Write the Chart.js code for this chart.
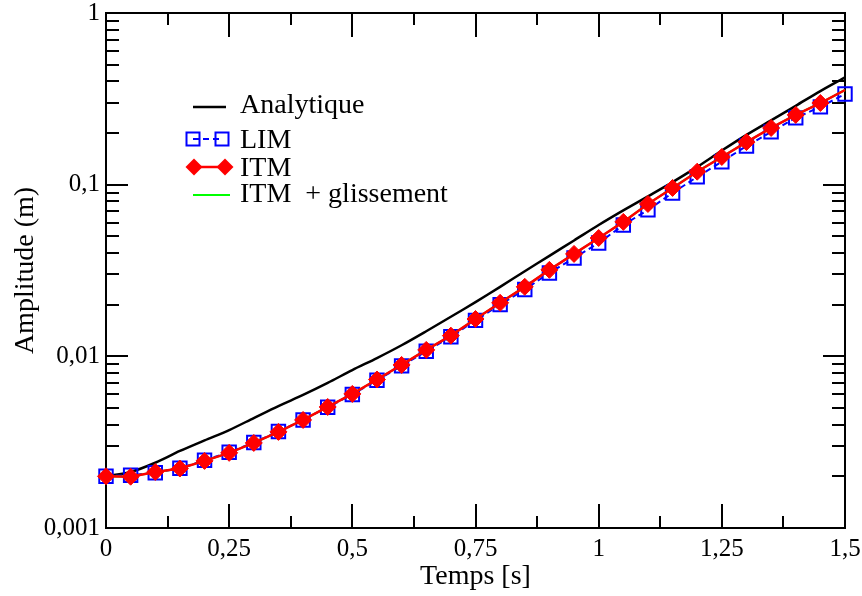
<!DOCTYPE html>
<html>
<head>
<meta charset="utf-8">
<script src="https://cdn.jsdelivr.net/npm/chart.js@4/dist/chart.umd.min.js"></script>
<style>
  body { margin: 0; background: #fff; }
  canvas { display: block; }
</style>
</head>
<body>
<canvas id="grafico" width="862" height="596"></canvas>
<script>
// temps (s)
const temps = [0, 0.05, 0.1, 0.15, 0.2, 0.25, 0.3, 0.35, 0.4, 0.45, 0.5, 0.55, 0.6, 0.65, 0.7, 0.75,
  0.8, 0.85, 0.9, 0.95, 1, 1.05, 1.1, 1.15, 1.2, 1.25, 1.3, 1.35, 1.4, 1.45, 1.5];

// amplitudes (m)
const analytique = [0.0020, 0.00212, 0.0024, 0.00281, 0.00324, 0.00372, 0.00437, 0.00513, 0.00596, 0.0070,
  0.00832, 0.00977, 0.0116, 0.0140, 0.0170, 0.0207, 0.0254, 0.0313, 0.0385, 0.0473, 0.0582,
  0.0708, 0.0855, 0.1035, 0.127, 0.158, 0.195, 0.237, 0.288, 0.351, 0.422];
const lim = [0.0020, 0.00203, 0.0021, 0.00223, 0.00248, 0.00276, 0.00315, 0.00365, 0.00426, 0.00505,
  0.0060, 0.00725, 0.0088, 0.0107, 0.0130, 0.0162, 0.0200, 0.0245, 0.0306, 0.0374, 0.0457,
  0.0582, 0.0713, 0.0895, 0.111, 0.136, 0.168, 0.203, 0.245, 0.284, 0.337];
const itm = [0.0020, 0.00199, 0.00212, 0.00222, 0.00246, 0.00274, 0.00313, 0.00363, 0.00426, 0.00507,
  0.00604, 0.00733, 0.00891, 0.0109, 0.0132, 0.0165, 0.0205, 0.0254, 0.0319, 0.0395, 0.0489,
  0.0607, 0.0772, 0.0957, 0.119, 0.145, 0.177, 0.214, 0.255, 0.299, 0.356];
const itmGlissement = [0.0020, 0.00199, 0.00212, 0.00222, 0.00246, 0.00274, 0.00313, 0.00363, 0.00426, 0.00507,
  0.00604, 0.00733, 0.00891, 0.0109, 0.0132, 0.0165, 0.0205, 0.0254, 0.0319, 0.0395, 0.0489,
  0.0607, 0.0772, 0.0957, 0.119, 0.145, 0.177, 0.214, 0.255, 0.299, 0.356];

const ticksX = [0, 0.25, 0.5, 0.75, 1, 1.25, 1.5];
const ticksY = [0.001, 0.01, 0.1, 1];

const police = "'Liberation Serif', 'Times New Roman', serif";

function pontos(valores) {
  return temps.map((t, i) => ({ x: t, y: valores[i] }));
}

function virgule(v) {
  return String(v).replace('.', ',');
}

// cadre + graduations vers l'interieur
const cadre = {
  id: 'cadre',
  beforeDatasetsDraw(chart) {
    const { ctx, chartArea: a, scales } = chart;
    const sx = scales.x, sy = scales.y;
    ctx.save();
    ctx.strokeStyle = '#000';
    ctx.lineWidth = 2;
    ctx.strokeRect(a.left, a.top, a.right - a.left, a.bottom - a.top);

    ctx.beginPath();
    ticksX.forEach((v, i) => {
      const x = Math.round(sx.getPixelForValue(v));
      ctx.moveTo(x, a.bottom); ctx.lineTo(x, a.bottom - 24);
      ctx.moveTo(x, a.top); ctx.lineTo(x, a.top + 24);
      if (i < ticksX.length - 1) {
        const xm = Math.round(sx.getPixelForValue((v + ticksX[i + 1]) / 2));
        ctx.moveTo(xm, a.bottom); ctx.lineTo(xm, a.bottom - 12);
        ctx.moveTo(xm, a.top); ctx.lineTo(xm, a.top + 12);
      }
    });
    ticksY.forEach((d, i) => {
      const y = Math.round(sy.getPixelForValue(d));
      ctx.moveTo(a.left, y); ctx.lineTo(a.left + 22, y);
      ctx.moveTo(a.right, y); ctx.lineTo(a.right - 22, y);
      if (i < ticksY.length - 1) {
        for (let k = 2; k <= 9; k++) {
          const ym = Math.round(sy.getPixelForValue(d * k));
          ctx.moveTo(a.left, ym); ctx.lineTo(a.left + 13, ym);
          ctx.moveTo(a.right, ym); ctx.lineTo(a.right - 13, ym);
        }
      }
    });
    ctx.stroke();
    ctx.restore();
  }
};

function carre(ctx, x, y, r) {
  ctx.strokeRect(x - r, y - r, 2 * r, 2 * r);
}
function losange(ctx, x, y, r) {
  ctx.beginPath();
  ctx.moveTo(x, y - r); ctx.lineTo(x + r, y); ctx.lineTo(x, y + r); ctx.lineTo(x - r, y);
  ctx.closePath(); ctx.fill();
}

// legende a l'interieur du graphe
const legende = {
  id: 'legende',
  afterDraw(chart) {
    const ctx = chart.ctx;
    ctx.save();
    ctx.font = '28px ' + police;
    ctx.fillStyle = '#000';
    ctx.textBaseline = 'alphabetic';

    // Analytique
    ctx.strokeStyle = '#000'; ctx.lineWidth = 2.5;
    ctx.beginPath(); ctx.moveTo(193, 107); ctx.lineTo(226, 107); ctx.stroke();
    ctx.fillText('Analytique', 240, 113);

    // LIM
    ctx.strokeStyle = '#0000ff'; ctx.lineWidth = 2;
    ctx.setLineDash([6, 4]);
    ctx.beginPath(); ctx.moveTo(193, 139); ctx.lineTo(222, 139); ctx.stroke();
    ctx.setLineDash([]);
    carre(ctx, 193, 139, 6.5); carre(ctx, 222, 139, 6.5);
    ctx.fillText('LIM', 240, 148);

    // ITM
    ctx.strokeStyle = '#ff0000'; ctx.fillStyle = '#ff0000'; ctx.lineWidth = 2.5;
    ctx.beginPath(); ctx.moveTo(194, 167); ctx.lineTo(225, 167); ctx.stroke();
    losange(ctx, 194, 167, 8.5); losange(ctx, 225, 167, 8.5);
    ctx.fillStyle = '#000';
    ctx.fillText('ITM', 240, 176);

    // ITM + glissement
    ctx.strokeStyle = '#00ff00'; ctx.lineWidth = 2;
    ctx.beginPath(); ctx.moveTo(193, 195); ctx.lineTo(230, 195); ctx.stroke();
    ctx.fillText('ITM  + glissement', 240, 202);
    ctx.restore();
  }
};

const grafico = new Chart(document.getElementById('grafico'), {
  type: 'line',
  data: {
    datasets: [
      {
        label: 'Analytique',
        data: pontos(analytique),
        borderColor: '#000',
        borderWidth: 2.5,
        pointRadius: 0,
        tension: 0.3,
        order: 4
      },
      {
        label: 'LIM',
        data: pontos(lim),
        borderColor: '#0000ff',
        borderWidth: 2,
        borderDash: [6, 4],
        pointStyle: 'rect',
        pointRadius: 9.5,
        pointBorderWidth: 2,
        pointBorderColor: '#0000ff',
        pointBackgroundColor: 'rgba(0,0,0,0)',
        order: 3
      },
      {
        label: 'ITM + glissement',
        data: pontos(itmGlissement),
        borderColor: '#00ff00',
        borderWidth: 2,
        pointRadius: 0,
        order: 2
      },
      {
        label: 'ITM',
        data: pontos(itm),
        borderColor: '#ff0000',
        borderWidth: 2.5,
        pointStyle: 'rectRot',
        pointRadius: c => (c.dataIndex === itm.length - 1 ? 0 : 8.5),
        pointBorderWidth: 1,
        pointBorderColor: '#ff0000',
        pointBackgroundColor: '#ff0000',
        order: 1
      }
    ]
  },
  options: {
    responsive: false,
    devicePixelRatio: 1,
    animation: false,
    clip: false,
    layout: { padding: { top: 13, right: 17, left: 0, bottom: 0 } },
    plugins: {
      legend: { display: false },
      tooltip: { enabled: false }
    },
    scales: {
      x: {
        type: 'linear',
        min: 0,
        max: 1.5,
        grid: { display: false, drawTicks: false },
        border: { display: false },
        afterBuildTicks: s => { s.ticks = ticksX.map(v => ({ value: v })); },
        afterFit: s => { s.height = 68; s.paddingLeft = 0; s.paddingRight = 0; },
        ticks: {
          color: '#000',
          padding: 6,
          maxRotation: 0,
          font: { family: police, size: 25 },
          callback: v => virgule(v)
        },
        title: {
          display: true,
          text: 'Temps [s]',
          color: '#000',
          padding: { top: 0, bottom: 3 },
          font: { family: police, size: 28 }
        }
      },
      y: {
        type: 'logarithmic',
        min: 0.001,
        max: 1,
        grid: { display: false, drawTicks: false },
        border: { display: false },
        afterBuildTicks: s => { s.ticks = ticksY.map(v => ({ value: v })); },
        afterFit: s => { s.width = 106; s.paddingTop = 0; s.paddingBottom = 0; },
        ticks: {
          color: '#000',
          padding: 6,
          font: { family: police, size: 25 },
          callback: v => virgule(v)
        },
        title: {
          display: true,
          text: 'Amplitude (m)',
          color: '#000',
          padding: { top: 9, bottom: 0 },
          font: { family: police, size: 28 }
        }
      }
    }
  },
  plugins: [cadre, legende]
});
</script>
</body>
</html>
